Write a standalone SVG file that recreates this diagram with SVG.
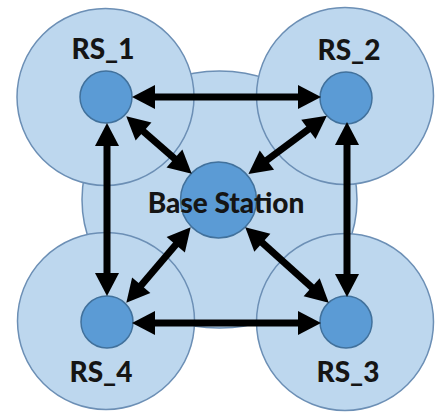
<svg xmlns="http://www.w3.org/2000/svg" width="440" height="416" viewBox="0 0 440 416">
  <style>
    .cover { fill: #bdd7ee; stroke: #6c8fb5; stroke-width: 1.5; }
    .station { fill: #5b9bd5; stroke: #41719c; stroke-width: 1.5; }
    .label { font-family: Lato, "Open Sans", "Liberation Sans", sans-serif; font-weight: 900; font-size: 28px; fill: #151515; text-anchor: middle; }
    .link { stroke: #000; stroke-width: 7; fill: none; marker-start: url(#head); marker-end: url(#head); }
  </style>
  <defs>
    <!-- arrowhead placed at the line end, pointing outward -->
    <marker id="head" markerUnits="userSpaceOnUse" markerWidth="25" markerHeight="25" viewBox="0 0 25 25" refX="1" refY="12.5" orient="auto-start-reverse" overflow="visible">
      <path d="M0,0.5 L23,12.5 L0,24.5 Z" fill="#000"/>
    </marker>
  </defs>

  <rect width="440" height="416" fill="#ffffff"/>

  <!-- central base station with its coverage area -->
  <g id="base-station">
    <ellipse class="cover" cx="219.5" cy="199.5" rx="137.5" ry="128.5"/>
    <circle class="station" cx="218.5" cy="200" r="38"/>
  </g>

  <!-- relay stations -->
  <g id="rs1">
    <circle class="cover" cx="105.5" cy="97" r="88.5"/>
    <circle class="station" cx="106" cy="97" r="26"/>
    <text class="label" x="103" y="59">RS_1</text>
  </g>
  <g id="rs2">
    <circle class="cover" cx="345" cy="96" r="88.5"/>
    <circle class="station" cx="346" cy="98" r="26"/>
    <text class="label" x="349" y="60">RS_2</text>
  </g>
  <g id="rs3">
    <circle class="cover" cx="345" cy="322" r="88.5"/>
    <circle class="station" cx="346" cy="322" r="26"/>
    <text class="label" x="348" y="382">RS_3</text>
  </g>
  <g id="rs4">
    <circle class="cover" cx="106" cy="321" r="88.5"/>
    <circle class="station" cx="107" cy="322" r="26"/>
    <text class="label" x="101" y="382">RS_4</text>
  </g>

  <!-- two-way links -->
  <g id="connectors">
    <line class="link" x1="154" y1="97" x2="299" y2="97"/>
    <line class="link" x1="154" y1="323" x2="299" y2="323"/>
    <line class="link" x1="107" y1="145" x2="107" y2="274"/>
    <line class="link" x1="347" y1="144" x2="347" y2="275"/>
    <line class="link" x1="142.8" y1="130.8" x2="175.2" y2="159.2"/>
    <line class="link" x1="309.2" y1="128.8" x2="266.1" y2="160.8"/>
    <line class="link" x1="176.4" y1="244" x2="140.6" y2="286"/>
    <line class="link" x1="261.6" y1="242.1" x2="312.4" y2="287.9"/>
  </g>

  <text class="label" x="226" y="213">Base Station</text>
</svg>
